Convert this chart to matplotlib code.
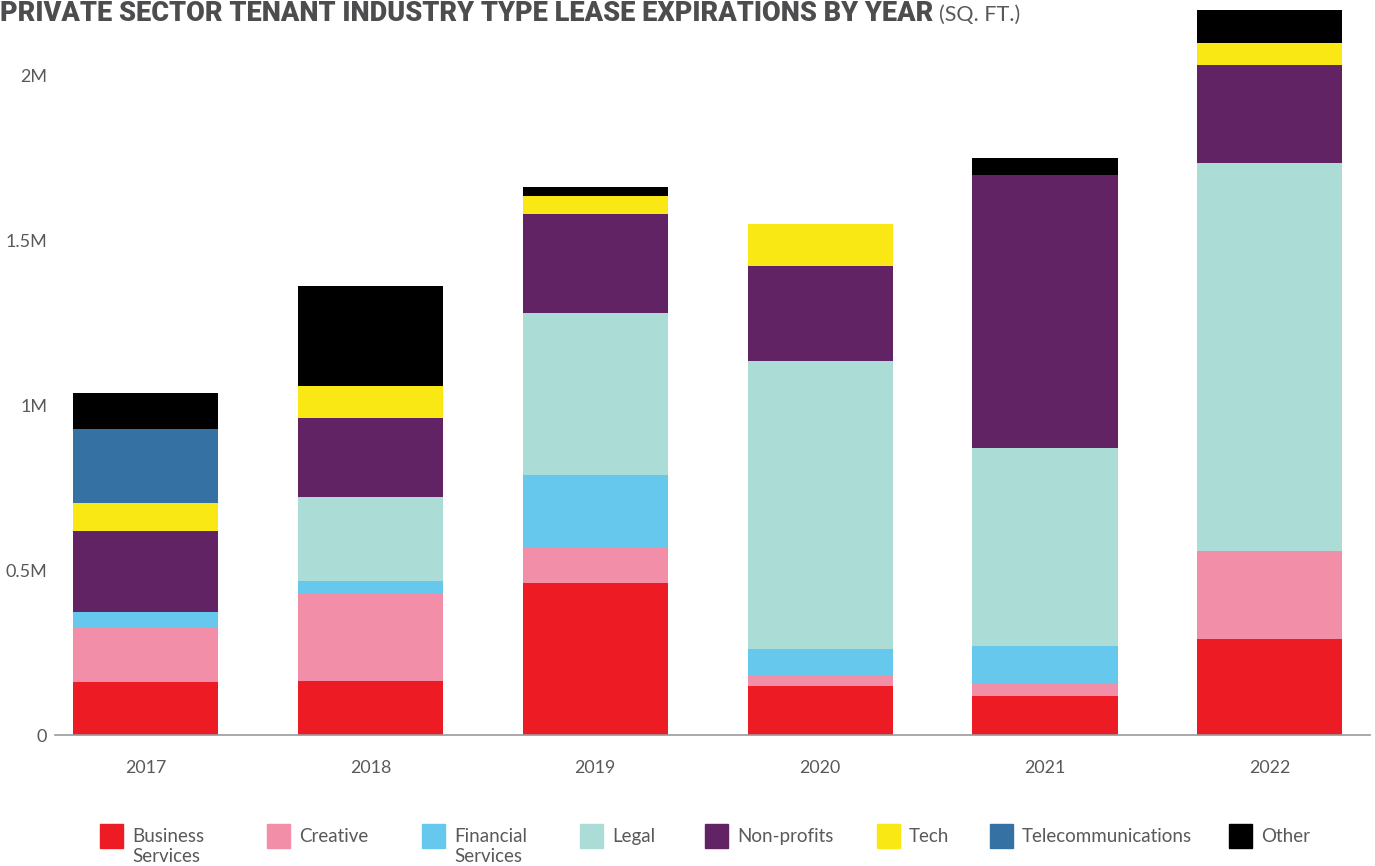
import matplotlib
matplotlib.use("Agg")
import matplotlib.pyplot as plt
from matplotlib.patches import Rectangle
from matplotlib.ticker import FixedLocator
import numpy as np

# data (sq. ft.)
years = ["2017", "2018", "2019", "2020", "2021", "2022"]
business = [161000, 164000, 461000, 149000, 118000, 291000]
creative = [167000, 267000, 109000, 33000, 37000, 267000]
financial = [45000, 36000, 218000, 79000, 115000, 0]
legal = [0, 255000, 492000, 874000, 601000, 1178000]
nonprofits = [246000, 240000, 300000, 288000, 829000, 297000]
tech = [85000, 97000, 55000, 128000, 0, 67000]
telecom = [225000, 0, 0, 0, 0, 0]
other = [109000, 304000, 27000, 0, 52000, 100000]

series_names = ["Business\nServices", "Creative", "Financial\nServices", "Legal",
                "Non-profits", "Tech", "Telecommunications", "Other"]
series = [business, creative, financial, legal, nonprofits, tech, telecom, other]
colors = ["#ed1c24", "#f28ea8", "#67c8ee", "#acdcd6",
          "#612363", "#f9e814", "#3572a3", "#000000"]

ytick_vals = [0, 500000, 1000000, 1500000, 2000000]
ytick_labels = ["0", "0.5M", "1M", "1.5M", "2M"]

grey = "#58595b"
plt.rcParams['font.family'] = ['Lato', 'DejaVu Sans']

W, H = 1375, 866
fig = plt.figure(figsize=(W / 100, H / 100), dpi=100)
ax = fig.add_axes([55 / W, (H - 735) / H, 1315 / W, 731.5 / H])

x = np.arange(len(years))
bottom = np.zeros(len(years))
for vals, col in zip(series, colors):
    vals = np.array(vals, dtype=float)
    ax.bar(x, vals, width=0.645, bottom=bottom, color=col, linewidth=0)
    bottom += vals

ax.set_xlim(-0.402, 5.445)
ax.set_ylim(0, 2.22e6)

for s in ["top", "right", "left"]:
    ax.spines[s].set_visible(False)
ax.spines["bottom"].set_color("#9a9a9a")
ax.spines["bottom"].set_linewidth(1.2)

ax.set_xticks(x)
ax.set_xticklabels(years, fontsize=12.8, color=grey)
ax.yaxis.set_major_locator(FixedLocator(ytick_vals))
ax.set_yticklabels(ytick_labels, fontsize=13, color=grey)
ax.tick_params(axis="both", length=0)
ax.tick_params(axis="x", pad=18)
ax.tick_params(axis="y", pad=5.5)

# title, kept just inside the top edge
t = fig.text(0, 1 - 21 / H, "PRIVATE SECTOR TENANT INDUSTRY TYPE LEASE EXPIRATIONS BY YEAR",
             fontsize=19.5, fontweight="heavy", color="#4d4d4f", family="Roboto",
             va="baseline", ha="left")
fig.canvas.draw()
bb = t.get_window_extent()
fig.text((bb.x1 + 6) / W, 1 - 21 / H, "(SQ. FT.)", fontsize=15.5, color=grey,
         va="baseline", ha="left")

# legend drawn by hand
leg_x = [100, 267, 422, 580, 705, 877, 990, 1229]
for lx, name, col in zip(leg_x, series_names, colors):
    fig.patches.append(Rectangle((lx / W, (H - 848) / H), 23 / W, 24 / H,
                                 transform=fig.transFigure, color=col))
    fig.text((lx + 32) / W, (H - 828) / H, name, fontsize=13.5, color=grey,
             va="top", ha="left", linespacing=1.2)

fig.savefig("out.png", dpi=100)
